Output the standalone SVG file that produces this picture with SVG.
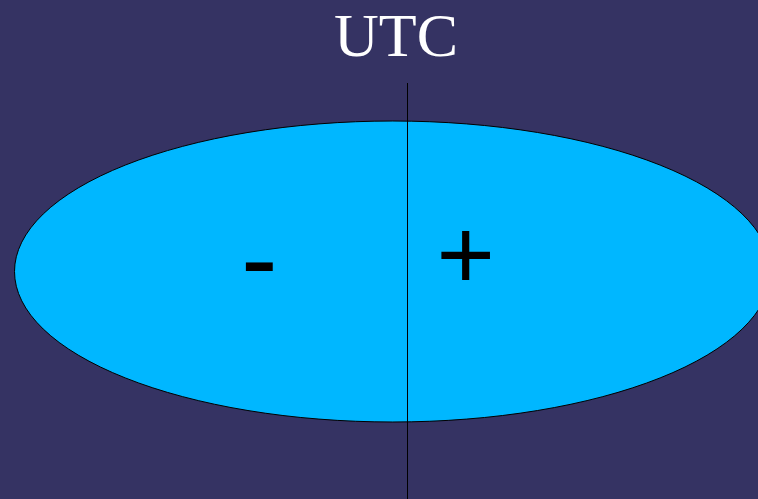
<svg xmlns="http://www.w3.org/2000/svg" width="758" height="499" viewBox="0 0 758 499">
<style>
.lbl{font-family:"Liberation Sans",Arial,sans-serif;fill:#000}
.title{font-family:"Liberation Serif","Times New Roman",serif;fill:#fff;font-size:62px}
</style>
<rect width="758" height="499" fill="#353363"/>
<g id="title"><text class="title" x="396" y="56" text-anchor="middle">UTC</text></g>
<g id="ellipse">
<ellipse cx="392.7" cy="271.5" rx="378.2" ry="150.5" fill="#00b7ff" stroke="#000" stroke-width="1"/>
</g>
<g id="connectors">
<line x1="407.5" y1="83" x2="407.5" y2="499" stroke="#000" stroke-width="1"/>
</g>
<g id="minus"><text class="lbl" x="241" y="295.5" font-size="110">-</text></g>
<g id="plus"><text class="lbl" x="436.5" y="289" font-size="100">+</text></g>
</svg>
